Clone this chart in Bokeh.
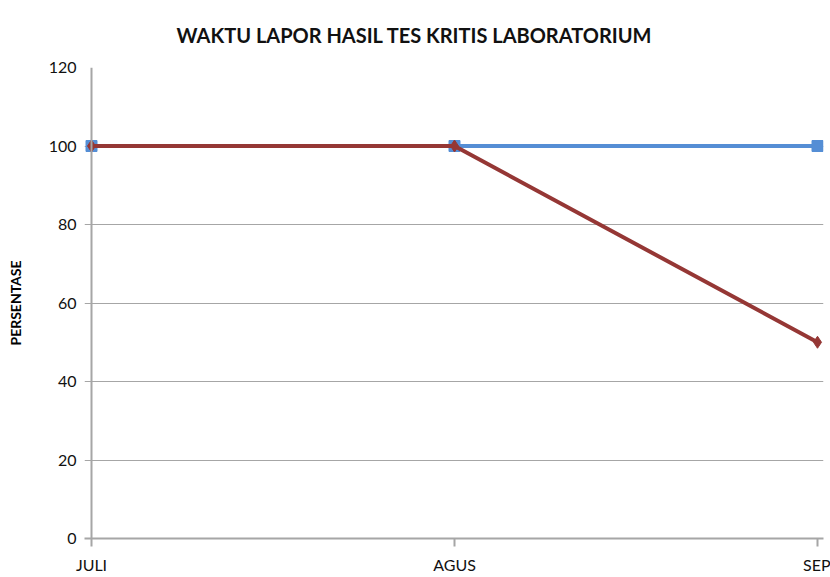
from bokeh.plotting import figure
from bokeh.models import Range1d, FixedTicker, Title, Span
from bokeh.embed import file_html
from bokeh.resources import INLINE

months = ["JULI", "AGUS", "SEP"]
series_blue = [100, 100, 100]
series_red = [100, 100, 50]
y_ticks = [0, 20, 40, 60, 80, 100, 120]

xs = list(range(len(months)))
pad_left = 7 / 363.0
pad_right = 6 / 363.0

p = figure(width=830, height=577, output_backend="svg", toolbar_location=None,
           x_range=Range1d(-pad_left, len(months) - 1 + pad_right), y_range=Range1d(0, 120),
           min_border_left=84, min_border_right=7, min_border_top=67, min_border_bottom=39)
p.outline_line_color = None
p.background_fill_color = "white"

p.title = Title(text="WAKTU LAPOR HASIL TES KRITIS LABORATORIUM", align="left",
                text_font="Lato", text_font_size="20px", text_font_style="bold",
                text_color="#111111", offset=92, standoff=41)

p.xgrid.grid_line_color = None
p.ygrid.grid_line_color = "#A6A6A6"
p.ygrid.grid_line_width = 1
p.ygrid.ticker = FixedTicker(ticks=y_ticks)

# vertical value axis line at the first category
p.add_layout(Span(location=xs[0], dimension="height", line_color="#A6A6A6", line_width=2))

p.line(xs, series_blue, line_color="#558ED5", line_width=4)
p.scatter(xs, series_blue, marker="square", size=11, fill_color="#558ED5", line_color="#558ED5")
p.line(xs, series_red, line_color="#953735", line_width=4)
p.scatter(xs, series_red, marker="diamond", size=12, fill_color="#953735", line_color="#953735")

p.yaxis.ticker = FixedTicker(ticks=y_ticks)
p.xaxis.ticker = FixedTicker(ticks=xs)
p.xaxis.major_label_overrides = {i: m for i, m in enumerate(months)}

for ax in (p.xaxis, p.yaxis):
    ax.axis_line_color = "#A6A6A6"
    ax.axis_line_width = 2
    ax.major_tick_line_color = "#A6A6A6"
    ax.major_tick_line_width = 2
    ax.major_tick_in = 0
    ax.major_tick_out = 8
    ax.minor_tick_line_color = None
    ax.major_label_text_font = "Lato"
    ax.major_label_text_font_size = "16px"
    ax.major_label_text_color = "#111111"

p.yaxis.axis_line_color = None
p.yaxis.major_tick_out = 0
p.yaxis.major_tick_line_color = None

p.xaxis.major_label_standoff = 8
p.yaxis.major_label_standoff = 8
p.yaxis.axis_label = "PERSENTASE"
p.yaxis.axis_label_text_font = "Lato"
p.yaxis.axis_label_text_font_size = "14px"
p.yaxis.axis_label_text_font_style = "bold"
p.yaxis.axis_label_text_color = "#000000"
p.yaxis.axis_label_standoff = 22

open("out.html", "w").write(file_html(p, INLINE))
